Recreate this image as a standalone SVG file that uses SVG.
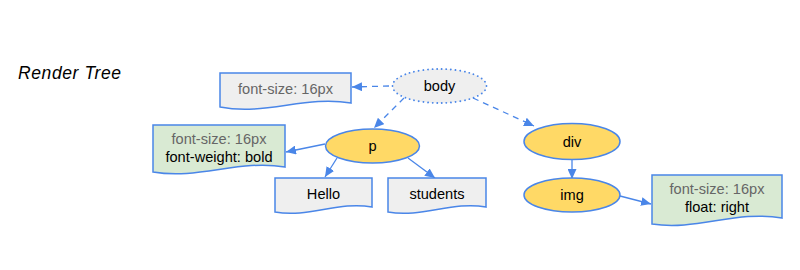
<svg xmlns="http://www.w3.org/2000/svg" width="800" height="270" viewBox="0 0 800 270">
<defs>
<marker id="ah" viewBox="0 0 10 10" refX="10" refY="5" markerWidth="10" markerHeight="9" markerUnits="userSpaceOnUse" orient="auto" preserveAspectRatio="none">
<path d="M0,0 L10,5 L0,10 Z" fill="#4a86e8"/>
</marker>
<style>
text{font-family:"Liberation Sans",Arial,sans-serif;font-size:14.6px;text-anchor:middle;fill:#000}
.g{fill:#666666}
.doc{stroke:#4a86e8;stroke-width:1.5}
.gray{fill:#efefef}
.green{fill:#d9ead3}
.el{fill:#ffd966;stroke:#4a86e8;stroke-width:1.5}
.c{fill:none;stroke:#4a86e8;stroke-width:1.3;marker-end:url(#ah)}
.d{stroke-dasharray:6,5}
</style>
</defs>
<text x="18" y="79" style="font-style:italic;font-size:17.5px;text-anchor:start;letter-spacing:0.6px">Render Tree</text>
<g id="connectors">
<path class="c d" d="M389,86 L352,87"/>
<path class="c d" d="M404,98 L374,128"/>
<path class="c d" d="M473,98 L534,126"/>
<path class="c" d="M325,144 L286,152"/>
<path class="c" d="M337,158 L325,177"/>
<path class="c" d="M408,158 L435,178"/>
<path class="c" d="M572,160 L572,179"/>
<path class="c" d="M620,196 L651,204"/>
</g>
<g id="fs-body">
<path class="doc gray" d="M220,73 H351 V103 C305,95 266,116 220,107 Z"/>
<text class="g" x="285.5" y="94">font-size: 16px</text>
</g>
<g id="body">
<ellipse cx="439.5" cy="86" rx="47" ry="17" fill="#efefef" stroke="#4a86e8" stroke-width="1.8" stroke-dasharray="0.1,4.5" stroke-linecap="round"/>
<text x="439.5" y="91">body</text>
</g>
<g id="fs-p">
<path class="doc green" d="M153,125 H285 V167 C239,159 199,180 153,172 Z"/>
<text class="g" x="219" y="144">font-size: 16px</text>
<text x="219" y="161.5">font-weight: bold</text>
</g>
<g id="p">
<ellipse class="el" cx="372.5" cy="146" rx="47" ry="17"/>
<text x="372.5" y="151">p</text>
</g>
<g id="hello">
<path class="doc gray" d="M275,178 H372 V207 C338,201 309,218 275,212 Z"/>
<text x="323.5" y="199">Hello</text>
</g>
<g id="students">
<path class="doc gray" d="M388,178 H486 V207 C452,201 422,218 388,212 Z"/>
<text x="437" y="199">students</text>
</g>
<g id="div">
<ellipse class="el" cx="572" cy="141.5" rx="48" ry="18"/>
<text x="572" y="147">div</text>
</g>
<g id="img">
<ellipse class="el" cx="572" cy="195" rx="48" ry="17"/>
<text x="572" y="200">img</text>
</g>
<g id="fs-img">
<path class="doc green" d="M652,175 H782 V218 C736,210 697,231 652,224 Z"/>
<text class="g" x="717" y="194">font-size: 16px</text>
<text x="717" y="211.5">float: right</text>
</g>
</svg>
